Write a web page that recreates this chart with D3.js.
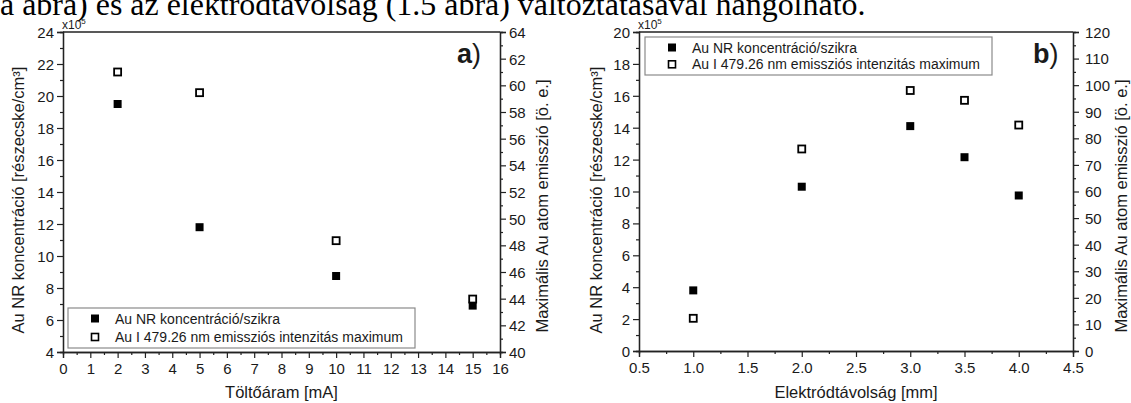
<!DOCTYPE html>
<html>
<head>
<meta charset="utf-8">
<script src="https://cdn.jsdelivr.net/npm/d3@7"></script>
<style>
  html, body { margin: 0; padding: 0; background: #fff; }
  svg { display: block; }
  text { font-family: "Liberation Sans", Arial, sans-serif; fill: #1a1a1a; }
</style>
</head>
<body>
<svg id="chart" width="1131" height="403"></svg>
<script>
// ---------- data ----------
const currentA = [2, 5, 10, 15];               // Töltőáram [mA]
const concA    = [19.5, 11.8, 8.75, 6.9];       // x10^5 részecske/cm3
const emisA    = [61.0, 59.45, 48.35, 43.97];   // ö. e.

const distB    = [1.0, 2.0, 3.0, 3.5, 4.0];     // Elektródtávolság [mm]
const concB    = [3.8, 10.3, 14.1, 12.15, 9.75];
const emisB    = [12.3, 76.0, 98.0, 94.3, 85.0];

const xTicksA  = [0,1,2,3,4,5,6,7,8,9,10,11,12,13,14,15,16];
const yLTicksA = [4,6,8,10,12,14,16,18,20,22,24];
const yRTicksA = [40,42,44,46,48,50,52,54,56,58,60,62,64];
const xTicksB  = [0.5,1.0,1.5,2.0,2.5,3.0,3.5,4.0,4.5];
const yLTicksB = [0,2,4,6,8,10,12,14,16,18,20];
const yRTicksB = [0,10,20,30,40,50,60,70,80,90,100,110,120];

const legendLabels = ["Au NR koncentráció/szikra", "Au I 479.26 nm emissziós intenzitás maximum"];
const yLeftTitle  = "Au NR koncentráció [részecske/cm³]";
const yRightTitle = "Maximális Au atom emisszió [ö. e.]";
const headText = "a ábra) és az elektródtávolság (1.5 ábra) változtatásával hangolható.";

const svg = d3.select("#chart");

// ---------- heading text (clipped at top) ----------
const head = svg.append("text")
  .attr("x", 0).attr("y", 15)
  .style("font-family", "'Liberation Serif', 'Times New Roman', serif")
  .style("font-size", "32px").style("fill", "#000")
  .text(headText);
const hw = head.node().getComputedTextLength();
head.style("font-size", (32 * 866 / hw) + "px");

function minorBetween(ticks) {
  const out = [];
  for (let i = 0; i < ticks.length - 1; i++) out.push((ticks[i] + ticks[i + 1]) / 2);
  return out;
}

function panel(cfg) {
  const g = svg.append("g");
  const x = d3.scaleLinear().domain(cfg.xDom).range(cfg.xr);
  const yL = d3.scaleLinear().domain(cfg.yLDom).range(cfg.yr);
  const yR = d3.scaleLinear().domain(cfg.yRDom).range(cfg.yr);
  const stroke = "#222";
  const [x0, x1] = cfg.xr, [yb, yt] = cfg.yr;

  function styleAxis(sel, fs) {
    sel.selectAll("path").attr("stroke", stroke).attr("stroke-width", 1.3);
    sel.selectAll("line").attr("stroke", stroke).attr("stroke-width", 1.2);
    sel.selectAll("text").style("font-size", fs).style("fill", "#1a1a1a");
  }

  // minor ticks
  const gxm = g.append("g").attr("transform", `translate(0,${yb})`)
    .call(d3.axisBottom(x).tickValues(minorBetween(cfg.xTicks)).tickSize(3).tickFormat(""));
  styleAxis(gxm, "15px");
  const gylm = g.append("g").attr("transform", `translate(${x0},0)`)
    .call(d3.axisLeft(yL).tickValues(minorBetween(cfg.yLTicks)).tickSize(3).tickFormat(""));
  styleAxis(gylm, "15px");
  const gyrm = g.append("g").attr("transform", `translate(${x1},0)`)
    .call(d3.axisRight(yR).tickValues(minorBetween(cfg.yRTicks)).tickSize(3).tickFormat(""));
  styleAxis(gyrm, "15px");

  // major axes
  const gx = g.append("g").attr("transform", `translate(0,${yb})`)
    .call(d3.axisBottom(x).tickValues(cfg.xTicks).tickSize(6).tickPadding(5)
      .tickFormat(cfg.xFmt));
  styleAxis(gx, "15px");
  const gyl = g.append("g").attr("transform", `translate(${x0},0)`)
    .call(d3.axisLeft(yL).tickValues(cfg.yLTicks).tickSize(6).tickPadding(3).tickFormat(d3.format("d")));
  styleAxis(gyl, "15px");
  const gyr = g.append("g").attr("transform", `translate(${x1},0)`)
    .call(d3.axisRight(yR).tickValues(cfg.yRTicks).tickSize(6).tickPadding(cfg.rPad).tickFormat(d3.format("d")));
  styleAxis(gyr, "15px");
  gyl.selectAll(".tick text").attr("dy", "0.36em");
  gyr.selectAll(".tick text").attr("dy", "0.36em");

  // top frame
  g.append("line").attr("x1", x0).attr("x2", x1).attr("y1", yt).attr("y2", yt)
    .attr("stroke", stroke).attr("stroke-width", 1.3);

  // x10^5
  const e = g.append("text").attr("x", x0 - 1).attr("y", yt - 3).style("font-size", "12px");
  e.append("tspan").text("x10");
  e.append("tspan").attr("dy", -5).style("font-size", "8px").text("5");

  // titles
  g.append("text").attr("x", (x0 + x1) / 2).attr("y", 398)
    .attr("text-anchor", "middle").style("font-size", "16.5px").text(cfg.xTitle);
  g.append("text").attr("transform", `translate(${cfg.yLTitleX},200) rotate(-90)`)
    .attr("text-anchor", "middle").attr("dominant-baseline", "central")
    .style("font-size", "16.5px").text(yLeftTitle);
  g.append("text").attr("transform", `translate(${cfg.yRTitleX},206) rotate(-90)`)
    .attr("text-anchor", "middle").attr("dominant-baseline", "central")
    .style("font-size", "16.5px").text(yRightTitle);

  // panel letter
  const pl = g.append("text").attr("x", cfg.letterX).attr("y", 63).style("font-size", "27px");
  pl.append("tspan").style("font-weight", "bold").text(cfg.letter);
  pl.append("tspan").text(")");

  // markers
  const filled = cfg.xs.map((d, i) => ({ x: d, y: cfg.conc[i] }));
  const open = cfg.xs.map((d, i) => ({ x: d, y: cfg.emis[i] }));
  g.selectAll(".f").data(filled).enter().append("rect")
    .attr("x", d => x(d.x) - 4).attr("y", d => yL(d.y) - 4)
    .attr("width", 8).attr("height", 8).attr("fill", "#000");
  g.selectAll(".o").data(open).enter().append("rect")
    .attr("x", d => x(d.x) - 3.5).attr("y", d => yR(d.y) - 3.5)
    .attr("width", 7).attr("height", 7).attr("fill", "#fff")
    .attr("stroke", "#000").attr("stroke-width", 1.8);

  // legend
  const L = cfg.legend;
  const lg = g.append("g");
  lg.append("rect").attr("x", L.x).attr("y", L.y).attr("width", L.w).attr("height", L.h)
    .attr("fill", "#fff").attr("stroke", "#8a8a8a").attr("stroke-width", 1.2);
  legendLabels.forEach((lab, i) => {
    const cy = L.y + L.r0 + i * L.dy;
    if (i === 0) {
      lg.append("rect").attr("x", L.x + 27 - 4).attr("y", cy - 4).attr("width", 8).attr("height", 8).attr("fill", "#000");
    } else {
      lg.append("rect").attr("x", L.x + 27 - 3.5).attr("y", cy - 3.5).attr("width", 7).attr("height", 7)
        .attr("fill", "#fff").attr("stroke", "#000").attr("stroke-width", 1.6);
    }
    lg.append("text").attr("x", L.x + 47).attr("y", cy).attr("dy", "0.36em")
      .style("font-size", "14px").text(lab);
  });
}

panel({
  xDom: [0, 16], xr: [63, 500], yr: [352, 32],
  yLDom: [4, 24], yRDom: [40, 64],
  xTicks: xTicksA, yLTicks: yLTicksA, yRTicks: yRTicksA,
  xFmt: d3.format("d"), rPad: 3,
  xs: currentA, conc: concA, emis: emisA,
  xTitle: "Töltőáram [mA]", yLTitleX: 18, yRTitleX: 542,
  letter: "a", letterX: 457,
  legend: { x: 68, y: 308, w: 347, h: 40, r0: 10.5, dy: 18.5 }
});

panel({
  xDom: [0.5, 4.5], xr: [639, 1073], yr: [351, 32],
  yLDom: [0, 20], yRDom: [0, 120],
  xTicks: xTicksB, yLTicks: yLTicksB, yRTicks: yRTicksB,
  xFmt: d3.format(".1f"), rPad: 6,
  xs: distB, conc: concB, emis: emisB,
  xTitle: "Elektródtávolság [mm]", yLTitleX: 596, yRTitleX: 1121,
  letter: "b", letterX: 1033,
  legend: { x: 645, y: 37, w: 347, h: 38, r0: 10.5, dy: 16.8 }
});
</script>
</body>
</html>
